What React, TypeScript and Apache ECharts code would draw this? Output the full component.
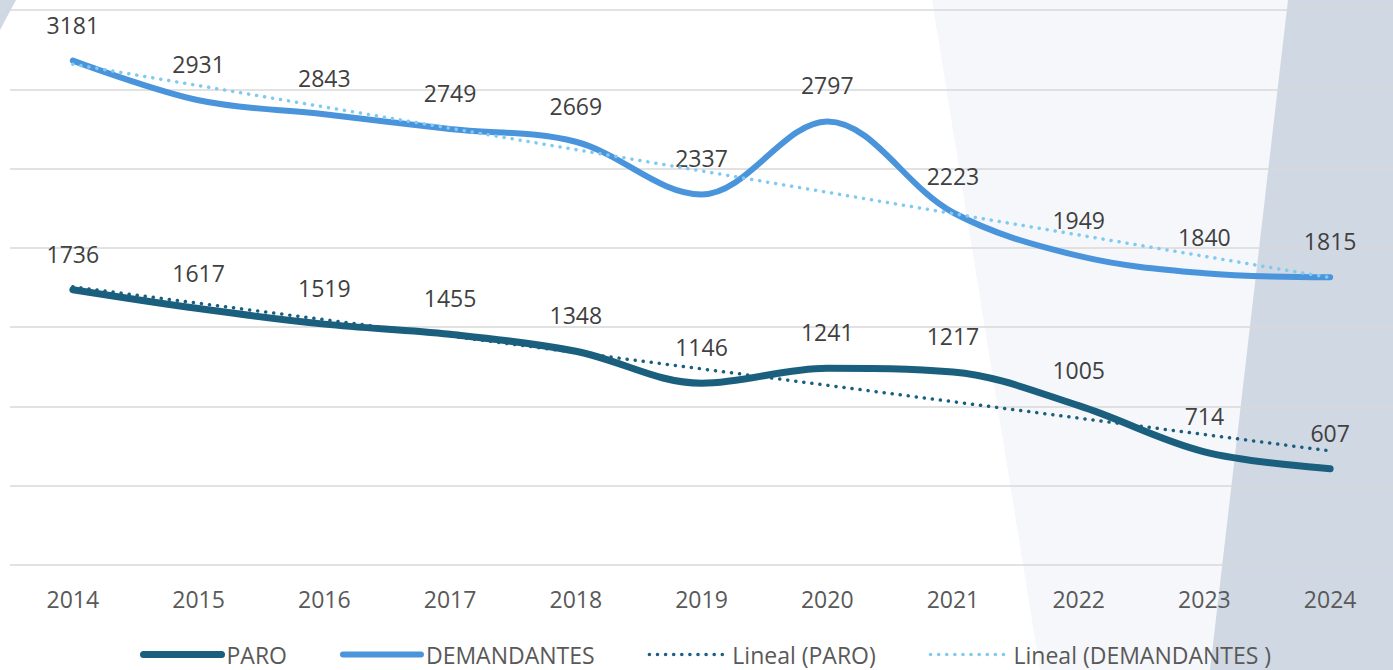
import React, { useEffect, useRef } from "react";
import * as echarts from "echarts";

const years = ["2014", "2015", "2016", "2017", "2018", "2019", "2020", "2021", "2022", "2023", "2024"];
const paro = [1736, 1617, 1519, 1455, 1348, 1146, 1241, 1217, 1005, 714, 607];
const demandantes = [3181, 2931, 2843, 2749, 2669, 2337, 2797, 2223, 1949, 1840, 1815];
const seriesNames = ["PARO", "DEMANDANTES", "Lineal (PARO)", "Lineal (DEMANDANTES )"];
const colors = ["#1b5f7f", "#4a94dc", "#1b5f7f", "#7fcaf0"];

function linearTrend(values: number[]): number[] {
  const n = values.length;
  const mx = (n - 1) / 2;
  const my = values.reduce((a, b) => a + b, 0) / n;
  let num = 0;
  let den = 0;
  values.forEach((v, i) => {
    num += (i - mx) * (v - my);
    den += (i - mx) * (i - mx);
  });
  const slope = num / den;
  return values.map((_, i) => Math.round((my + slope * (i - mx)) * 10) / 10);
}

const FONT = "'Open Sans', 'Noto Sans', sans-serif";

export default function App() {
  const ref = useRef<HTMLDivElement>(null);
  useEffect(() => {
    document.body.style.margin = "0";
    const chart = echarts.init(ref.current!, null, { renderer: "svg" });
    const labelStyle = {
      show: true,
      position: "top" as const,
      distance: 24,
      color: "#404040",
      fontSize: 23,
      fontFamily: FONT,
    };
    const lineStyles = [
      { color: colors[0], width: 7, cap: "round" },
      { color: colors[1], width: 6, cap: "round" },
      { color: colors[2], width: 3.5, type: [0.1, 8], cap: "round" },
      { color: colors[3], width: 3.5, type: [0.1, 8], cap: "round" },
    ];
    chart.setOption({
      animation: false,
      backgroundColor: "#ffffff",
      graphic: [
        {
          type: "polygon",
          z: -10,
          silent: true,
          shape: { points: [[932, 0], [1393, 0], [1393, 670], [1040, 670]] },
          style: { fill: "#f5f7fb" },
        },
        {
          type: "polygon",
          z: -9,
          silent: true,
          shape: { points: [[1288, 0], [1393, 0], [1393, 670], [1210, 670]] },
          style: { fill: "#d0d8e3" },
        },
        {
          type: "polygon",
          z: -9,
          silent: true,
          shape: { points: [[0, 0], [16, 0], [0, 30]] },
          style: { fill: "#d0d8e3" },
        },
      ],
      grid: { left: 10, right: 0, top: 10, bottom: 105, containLabel: false },
      legend: {
        data: seriesNames.map((name, i) => ({
          name,
          itemStyle: { opacity: 0 },
          lineStyle: lineStyles[i],
        })),
        left: 135,
        top: 643,
        padding: [0, 5],
        itemWidth: 78,
        itemHeight: 14,
        itemGap: 53,
        textStyle: { color: "#595959", fontSize: 23, fontFamily: FONT },
      },
      xAxis: {
        type: "category",
        data: years,
        boundaryGap: true,
        axisLine: { show: false },
        axisTick: { show: false },
        axisLabel: { color: "#595959", fontSize: 23, fontFamily: FONT, margin: 22 },
      },
      yAxis: {
        type: "value",
        min: 0,
        max: 3500,
        interval: 500,
        axisLabel: { show: false },
        axisLine: { show: false },
        axisTick: { show: false },
        splitLine: { lineStyle: { color: "#d9d9d9", width: 1.5 } },
      },
      series: [
        {
          name: seriesNames[0],
          type: "line",
          data: paro,
          smooth: 0.35,
          symbol: "circle",
          symbolSize: 1,
          showSymbol: true,
          color: colors[0],
          itemStyle: { color: colors[0] },
          lineStyle: lineStyles[0],
          label: labelStyle,
          z: 2,
        },
        {
          name: seriesNames[1],
          type: "line",
          data: demandantes,
          smooth: 0.35,
          symbol: "circle",
          symbolSize: 1,
          showSymbol: true,
          color: colors[1],
          itemStyle: { color: colors[1] },
          lineStyle: lineStyles[1],
          label: labelStyle,
          z: 2,
        },
        {
          name: seriesNames[2],
          type: "line",
          data: linearTrend(paro),
          symbol: "none",
          showSymbol: false,
          color: colors[2],
          lineStyle: lineStyles[2],
          z: 3,
        },
        {
          name: seriesNames[3],
          type: "line",
          data: linearTrend(demandantes),
          symbol: "none",
          showSymbol: false,
          color: colors[3],
          lineStyle: lineStyles[3],
          z: 3,
        },
      ],
    });
    return () => chart.dispose();
  }, []);
  return (
    <div
      ref={ref}
      style={{ position: "absolute", left: 0, top: 0, width: 1393, height: 670 }}
    />
  );
}
